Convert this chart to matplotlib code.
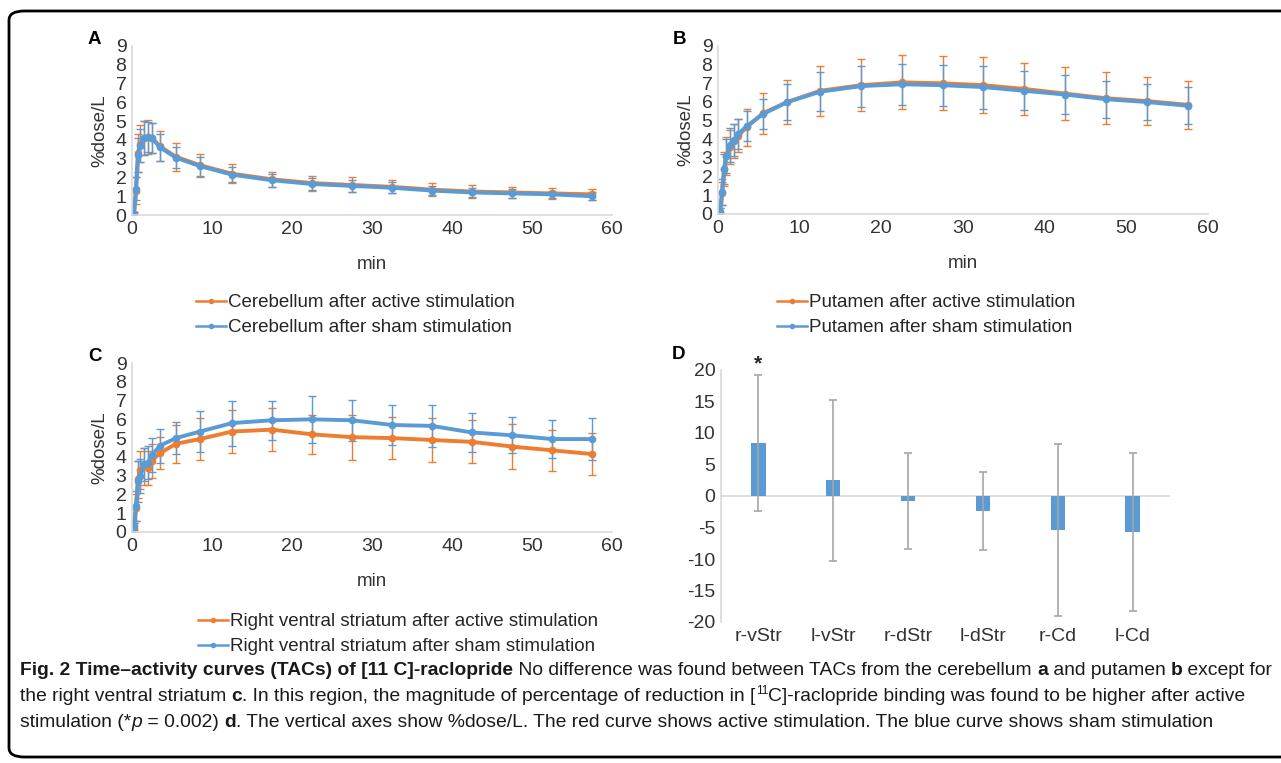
import matplotlib
matplotlib.use("Agg")
from matplotlib import pyplot as plt
from matplotlib.patches import FancyBboxPatch
from matplotlib.lines import Line2D

# frame mid-times (min)
t = [0, 0.25, 0.5, 0.75, 1, 1.5, 2, 2.5, 3.5, 5.5, 8.5, 12.5, 17.5,
     22.5, 27.5, 32.5, 37.5, 42.5, 47.5, 52.5, 57.5]

# A: cerebellum
cer_active = [0, 0.05, 1.3, 3.3, 3.8, 4.1, 4.15, 4.1, 3.65, 3.1, 2.65, 2.2, 1.9,
              1.7, 1.6, 1.5, 1.35, 1.25, 1.2, 1.15, 1.1]
cer_active_err = [0, 0.1, 0.7, 1.0, 1.0, 0.9, 0.9, 0.8, 0.8, 0.75, 0.6, 0.5, 0.4,
                  0.4, 0.4, 0.35, 0.35, 0.35, 0.3, 0.3, 0.3]
cer_sham = [0, 0.05, 1.4, 3.2, 3.7, 4.1, 4.15, 4.1, 3.6, 3.05, 2.6, 2.15, 1.85,
            1.65, 1.55, 1.45, 1.3, 1.2, 1.15, 1.1, 1.0]
cer_sham_err = [0, 0.1, 0.6, 0.9, 0.9, 0.9, 0.8, 0.8, 0.7, 0.55, 0.5, 0.4, 0.35,
                0.3, 0.3, 0.3, 0.25, 0.25, 0.25, 0.2, 0.2]

# B: putamen
put_active = [0, 0.1, 1.1, 2.4, 3.1, 3.6, 3.9, 4.2, 4.65, 5.4, 6.0, 6.6, 6.9,
              7.05, 7.0, 6.9, 6.7, 6.45, 6.2, 6.05, 5.85]
put_active_err = [0, 0.2, 0.6, 0.9, 1.0, 0.9, 0.9, 0.9, 1.0, 1.1, 1.2, 1.35, 1.4,
                  1.45, 1.45, 1.5, 1.4, 1.4, 1.4, 1.3, 1.3]
put_sham = [0, 0.1, 1.2, 2.4, 3.1, 3.7, 3.95, 4.3, 4.7, 5.35, 6.0, 6.55, 6.85,
            6.95, 6.9, 6.8, 6.6, 6.4, 6.15, 6.0, 5.8]
put_sham_err = [0, 0.2, 0.7, 0.8, 0.9, 0.9, 0.85, 0.8, 0.8, 0.8, 0.95, 1.05, 1.1,
                1.1, 1.1, 1.15, 1.05, 1.05, 1.0, 0.95, 1.0]

# C: right ventral striatum
rvs_active = [0, 0.2, 1.3, 2.8, 3.3, 3.5, 3.4, 3.8, 4.2, 4.7, 4.95, 5.35, 5.45,
              5.2, 5.05, 5.0, 4.9, 4.8, 4.55, 4.35, 4.15]
rvs_active_err = [0, 0.3, 0.7, 1.0, 1.0, 1.0, 0.9, 0.9, 0.85, 1.0, 1.1, 1.15, 1.15,
                  1.05, 1.2, 1.1, 1.15, 1.15, 1.2, 1.1, 1.1]
rvs_sham = [0, 0.3, 1.4, 2.7, 3.0, 3.6, 3.7, 4.1, 4.6, 5.0, 5.35, 5.8, 5.95,
            6.0, 5.95, 5.7, 5.65, 5.3, 5.15, 4.95, 4.95]
rvs_sham_err = [0, 0.2, 0.8, 1.1, 0.9, 0.9, 0.9, 0.9, 0.9, 0.85, 1.1, 1.2, 1.05,
                1.25, 1.1, 1.05, 1.1, 1.05, 0.95, 1.0, 1.1]

# D: % reduction in binding
regions = ["r-vStr", "l-vStr", "r-dStr", "l-dStr", "r-Cd", "l-Cd"]
reduction = [8.4, 2.5, -0.8, -2.4, -5.4, -5.7]
reduction_err = [10.8, 12.8, 7.6, 6.2, 13.7, 12.5]

ORANGE = "#ED7D31"
BLUE = "#5B9BD5"
GRID = "#D9D9D9"
TXT = "#333333"

plt.rcParams['font.family'] = ['Liberation Sans', 'DejaVu Sans']
plt.rcParams['axes.unicode_minus'] = False

fig = plt.figure(figsize=(12.81, 7.63), dpi=100)
W, H = 1281, 763


def ax_px(x0, x1, y_top, y_bot):
    return fig.add_axes([x0 / W, 1 - y_bot / H, (x1 - x0) / W, (y_bot - y_top) / H])


def style_axes(ax):
    for s in ['top', 'right']:
        ax.spines[s].set_visible(False)
    for s in ['left', 'bottom']:
        ax.spines[s].set_color(GRID)
        ax.spines[s].set_linewidth(1.2)
    ax.tick_params(length=0, labelsize=14, labelcolor=TXT, pad=4)


def tac_panel(ax, active, active_err, sham, sham_err, letter, labels, leg_xy):
    for y, e, c in [(active, active_err, ORANGE), (sham, sham_err, BLUE)]:
        ax.errorbar(t, y, yerr=e, color=c, lw=2.8, marker='o', ms=4.5,
                    ecolor=c, elinewidth=1.0, capsize=3, capthick=1.0)
    ax.set_xlim(0, 60)
    ax.set_ylim(0, 9)
    ax.set_xticks(range(0, 61, 10))
    ax.set_yticks(range(0, 10))
    style_axes(ax)
    ax.set_ylabel("%dose/L", fontsize=13.5, color=TXT, labelpad=5)
    ax.set_xlabel("min", fontsize=13.5, color=TXT, labelpad=13)
    ax.text(-0.092, 1.04, letter, transform=ax.transAxes, fontsize=13.5,
            fontweight='bold', ha='left', va='center')
    handles = [Line2D([], [], color=ORANGE, lw=1.8, marker='o', ms=3),
               Line2D([], [], color=BLUE, lw=1.8, marker='o', ms=3)]
    fig.legend(handles, labels, loc='upper left',
               bbox_to_anchor=(leg_xy[0] / W, 1 - leg_xy[1] / H),
               frameon=False, fontsize=13.5, handlelength=1.6, handletextpad=0.1,
               labelspacing=0.42, labelcolor='#262626', borderpad=0.3)


axA = ax_px(132, 612, 46, 215)
tac_panel(axA, cer_active, cer_active_err, cer_sham, cer_sham_err, "A",
          ["Cerebellum after active stimulation", "Cerebellum after sham stimulation"],
          (181, 279))

axB = ax_px(718, 1208, 46, 214)
tac_panel(axB, put_active, put_active_err, put_sham, put_sham_err, "B",
          ["Putamen after active stimulation", "Putamen after sham stimulation"],
          (762, 279))

axC = ax_px(132, 612, 363, 532)
tac_panel(axC, rvs_active, rvs_active_err, rvs_sham, rvs_sham_err, "C",
          ["Right ventral striatum after active stimulation",
           "Right ventral striatum after sham stimulation"],
          (183, 598))

# D
axD = ax_px(721, 1170, 370, 622)
xs = range(len(regions))
axD.bar(xs, reduction, width=0.19, color=BLUE, zorder=2)
axD.errorbar(xs, reduction, yerr=reduction_err, fmt='none', ecolor='#A6A6A6',
             elinewidth=1.2, capsize=3, capthick=1.2, zorder=3)
axD.axhline(0, color=GRID, lw=1.2, zorder=1)
axD.set_xlim(-0.5, 5.5)
axD.set_ylim(-20, 20)
axD.set_yticks(range(-20, 21, 5))
axD.set_xticks(list(xs))
axD.set_xticklabels(regions)
style_axes(axD)
axD.spines['bottom'].set_visible(False)
axD.text(0, reduction[0] + reduction_err[0] + 0.3, "*", ha='center', va='bottom',
         fontsize=15, fontweight='bold', color='#262626')
axD.text(-0.11, 1.06, "D", transform=axD.transAxes, fontsize=13.5,
         fontweight='bold', ha='left', va='center')

# frame
frame = FancyBboxPatch((9 / W, 6 / H), (1330 - 9) / W, (752 - 6) / H,
                       boxstyle="round,pad=0,rounding_size=0.012",
                       transform=fig.transFigure, fill=False, lw=2.0,
                       edgecolor='black', clip_on=False)
fig.patches.append(frame)

# caption
cap_family = ['Liberation Sans', 'DejaVu Sans']
cap_size = 13.9
renderer = fig.canvas.get_renderer()


def run_width(s, **kw):
    a = fig.text(0, 0, "|" + s + "|", fontsize=kw.get('size', cap_size),
                 family=cap_family, fontweight=kw.get('weight', 'normal'),
                 fontstyle=kw.get('style', 'normal'))
    b = fig.text(0, 0, "||", fontsize=kw.get('size', cap_size),
                 family=cap_family, fontweight=kw.get('weight', 'normal'))
    w = a.get_window_extent(renderer).width - b.get_window_extent(renderer).width
    a.remove()
    b.remove()
    return w


def draw_line(runs, x_px, y_px):
    x = x_px
    for s, kw in runs:
        size = kw.get('size', cap_size)
        dy = kw.get('rise', 0)
        fig.text(x / W, 1 - (y_px - dy) / H, s, fontsize=size, family=cap_family,
                 fontweight=kw.get('weight', 'normal'),
                 fontstyle=kw.get('style', 'normal'), color='#1a1a1a',
                 va='baseline', ha='left')
        x += run_width(s, **kw)


B_ = {'weight': 'bold'}
R_ = {}
lines = [
    [("Fig. 2 Time\u2013activity curves (TACs) of [11 C]-raclopride", B_),
     (" No difference was found between TACs from the cerebellum ", R_),
     ("a", B_), (" and putamen ", R_), ("b", B_), (" except for", R_)],
    [("the right ventral striatum ", R_), ("c", B_),
     (". In this region, the magnitude of percentage of reduction in [", R_),
     ("11", {'size': 8.5, 'rise': 7}),
     ("C]-raclopride binding was found to be higher after active", R_)],
    [("stimulation (*", R_), ("p", {'style': 'italic'}), (" = 0.002) ", R_),
     ("d", B_),
     (". The vertical axes show %dose/L. The red curve shows active stimulation. "
      "The blue curve shows sham stimulation", R_)],
]
for i, ln in enumerate(lines):
    draw_line(ln, 20, 675 + 26 * i)

fig.savefig("out.png", dpi=100)
